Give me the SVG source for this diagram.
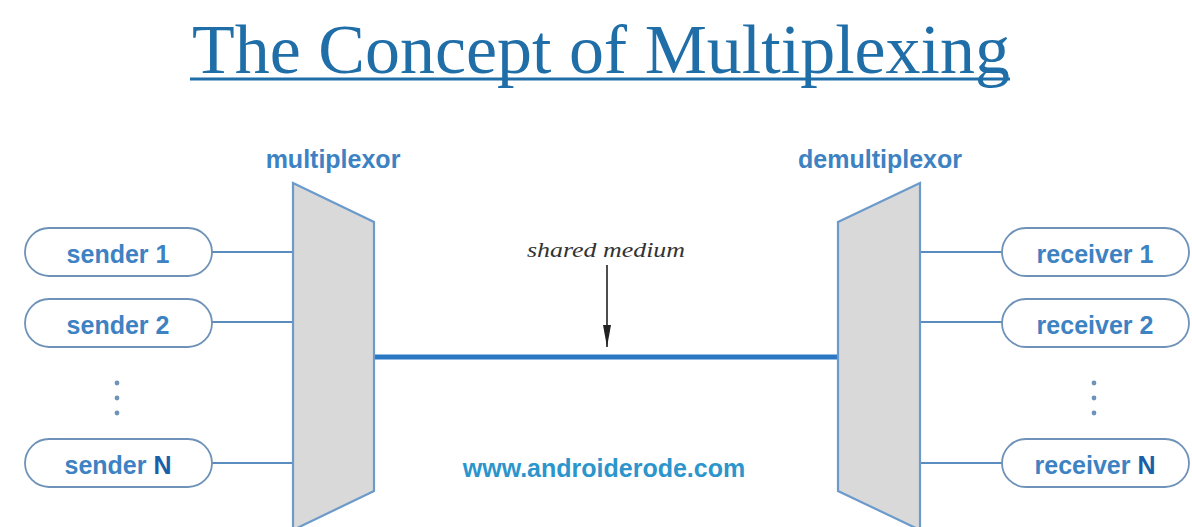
<svg xmlns="http://www.w3.org/2000/svg" width="1192" height="527" viewBox="0 0 1192 527">
<defs>
<style>
.box{fill:#ffffff;stroke:#6e92b8;stroke-width:1.8}
.lbl{font-family:"Liberation Sans",Arial,sans-serif;font-weight:bold;font-size:25px;fill:#3d82c2;text-anchor:middle}
.dark{fill:#1a5fa8}
.mux{fill:#d9d9d9;stroke:#6b9acb;stroke-width:2.2;stroke-linejoin:miter}
.conn{stroke:#5a8cbf;stroke-width:2;fill:none}
.dot{fill:#6e92b8}
</style>
<marker id="ah" viewBox="0 0 22 8" refX="22" refY="4" markerWidth="22" markerHeight="8" markerUnits="userSpaceOnUse" orient="auto">
<path d="M0,0 L22,4 L0,8 Z" fill="#222"/>
</marker>
</defs>
<rect width="1192" height="527" fill="#ffffff"/>

<g id="title">
<text x="192" y="73" font-family="'Liberation Serif','Times New Roman',serif" font-size="70" fill="#1f6ea8" textLength="818" lengthAdjust="spacingAndGlyphs">The Concept of Multiplexing</text>
<rect x="190" y="77.5" width="820" height="3" fill="#1f6ea8"/>
</g>

<g id="connectors">
<line class="conn" x1="212" y1="252" x2="293" y2="252"/>
<line class="conn" x1="212" y1="322" x2="293" y2="322"/>
<line class="conn" x1="212" y1="463" x2="293" y2="463"/>
<line class="conn" x1="920" y1="252" x2="1002" y2="252"/>
<line class="conn" x1="920" y1="322" x2="1002" y2="322"/>
<line class="conn" x1="920" y1="463" x2="1002" y2="463"/>
<line x1="374" y1="357" x2="839" y2="357" stroke="#2a78c4" stroke-width="5"/>
</g>

<g id="multiplexor">
<polygon class="mux" points="293,183 374,222 374,491 293,530"/>
<text class="lbl" x="333" y="168">multiplexor</text>
</g>

<g id="demultiplexor">
<polygon class="mux" points="838,222 920,183 920,530 838,491"/>
<text class="lbl" x="880" y="168">demultiplexor</text>
</g>

<g id="sender1">
<rect class="box" x="25" y="228" width="187" height="48" rx="24"/>
<text class="lbl" x="118" y="263">sender 1</text>
</g>
<g id="sender2">
<rect class="box" x="25" y="299" width="187" height="48" rx="24"/>
<text class="lbl" x="118" y="334">sender 2</text>
</g>
<g id="senderDots">
<circle class="dot" cx="117" cy="383" r="2.4"/>
<circle class="dot" cx="117" cy="398" r="2.4"/>
<circle class="dot" cx="117" cy="413" r="2.4"/>
</g>
<g id="senderN">
<rect class="box" x="25" y="439" width="187" height="48" rx="24"/>
<text class="lbl" x="118" y="474">sender <tspan class="dark">N</tspan></text>
</g>

<g id="receiver1">
<rect class="box" x="1002" y="228" width="187" height="48" rx="24"/>
<text class="lbl" x="1095" y="263">receiver 1</text>
</g>
<g id="receiver2">
<rect class="box" x="1002" y="299" width="187" height="48" rx="24"/>
<text class="lbl" x="1095" y="334">receiver 2</text>
</g>
<g id="receiverDots">
<circle class="dot" cx="1094" cy="383" r="2.4"/>
<circle class="dot" cx="1094" cy="398" r="2.4"/>
<circle class="dot" cx="1094" cy="413" r="2.4"/>
</g>
<g id="receiverN">
<rect class="box" x="1002" y="439" width="187" height="48" rx="24"/>
<text class="lbl" x="1095" y="474">receiver <tspan class="dark">N</tspan></text>
</g>

<g id="sharedMedium">
<text x="606" y="257" font-family="'Liberation Serif','Times New Roman',serif" font-style="italic" font-size="22" fill="#333333" text-anchor="middle" textLength="158" lengthAdjust="spacingAndGlyphs">shared medium</text>
<line x1="607" y1="265" x2="607" y2="347" stroke="#222" stroke-width="1.6" marker-end="url(#ah)"/>
</g>

<g id="watermark">
<text x="604" y="477" font-family="'Liberation Sans',Arial,sans-serif" font-weight="bold" font-size="25" fill="#2b95cc" text-anchor="middle">www.androiderode.com</text>
</g>
</svg>
